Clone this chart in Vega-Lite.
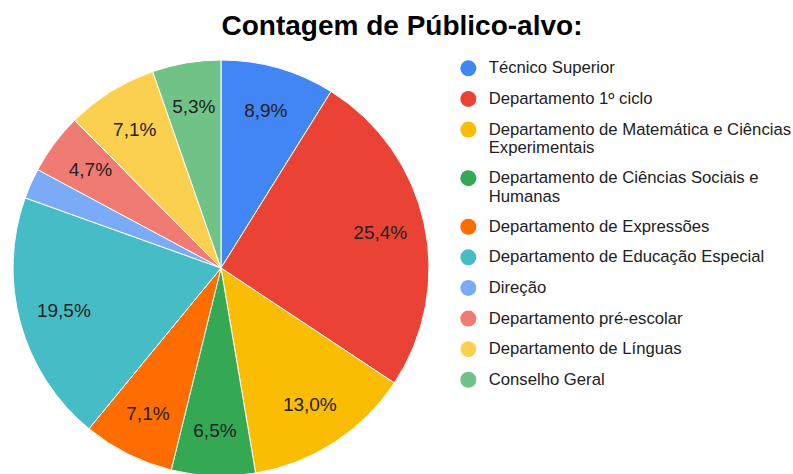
{
  "$schema": "https://vega.github.io/schema/vega-lite/v6.json",
  "width": 442,
  "height": 416,
  "padding": {"left": 0, "top": 13, "right": 0, "bottom": 0},
  "background": "white",
  "title": {
    "text": "Contagem de Público-alvo:",
    "font": "Liberation Sans",
    "fontSize": 28,
    "fontWeight": "bold",
    "color": "#000000",
    "anchor": "middle",
    "frame": "group",
    "dx": 181,
    "offset": 17
  },
  "data": {
    "values": [
      {"ordem": 1, "categoria": "Técnico Superior", "n": 15, "pct": 8.9, "rotulo": "8,9%"},
      {"ordem": 2, "categoria": "Departamento 1º ciclo", "n": 43, "pct": 25.4, "rotulo": "25,4%"},
      {"ordem": 3, "categoria": "Departamento de Matemática e Ciências Experimentais", "n": 22, "pct": 13.0, "rotulo": "13,0%"},
      {"ordem": 4, "categoria": "Departamento de Ciências Sociais e Humanas", "n": 11, "pct": 6.5, "rotulo": "6,5%"},
      {"ordem": 5, "categoria": "Departamento de Expressões", "n": 12, "pct": 7.1, "rotulo": "7,1%"},
      {"ordem": 6, "categoria": "Departamento de Educação Especial", "n": 33, "pct": 19.5, "rotulo": "19,5%"},
      {"ordem": 7, "categoria": "Direção", "n": 4, "pct": 2.4, "rotulo": "2,4%"},
      {"ordem": 8, "categoria": "Departamento pré-escolar", "n": 8, "pct": 4.7, "rotulo": "4,7%"},
      {"ordem": 9, "categoria": "Departamento de Línguas", "n": 12, "pct": 7.1, "rotulo": "7,1%"},
      {"ordem": 10, "categoria": "Conselho Geral", "n": 9, "pct": 5.3, "rotulo": "5,3%"}
    ]
  },
  "encoding": {
    "theta": {"field": "n", "type": "quantitative", "stack": true},
    "order": {"field": "ordem", "type": "quantitative"}
  },
  "layer": [
    {
      "mark": {"type": "arc", "outerRadius": 208, "stroke": "#ffffff", "strokeWidth": 1},
      "encoding": {
        "color": {
          "field": "categoria",
          "type": "nominal",
          "sort": null,
          "scale": {
            "domain": [
              "Técnico Superior",
              "Departamento 1º ciclo",
              "Departamento de Matemática e Ciências Experimentais",
              "Departamento de Ciências Sociais e Humanas",
              "Departamento de Expressões",
              "Departamento de Educação Especial",
              "Direção",
              "Departamento pré-escolar",
              "Departamento de Línguas",
              "Conselho Geral"
            ],
            "range": ["#4285f4", "#ea4335", "#fbbc04", "#34a853", "#ff6d01", "#46bdc6", "#7baaf7", "#f07b72", "#fcd04f", "#71c287"]
          },
          "legend": {
            "title": null,
            "orient": "right",
            "offset": 18,
            "padding": 0,
            "symbolType": "circle",
            "symbolSize": 256,
            "symbolStrokeWidth": 0,
            "symbolOpacity": 1,
            "labelFont": "Liberation Sans",
            "labelFontSize": 16.7,
            "labelColor": "#222222",
            "labelLimit": 400,
            "labelOffset": 12,
            "rowPadding": 12.6,
            "labelExpr": "datum.label == 'Departamento de Matemática e Ciências Experimentais' ? ['Departamento de Matemática e Ciências', 'Experimentais'] : datum.label == 'Departamento de Ciências Sociais e Humanas' ? ['Departamento de Ciências Sociais e', 'Humanas'] : datum.label",
            "encode": {
              "labels": {"update": {"lineHeight": {"value": 16}}}
            }
          }
        }
      }
    },
    {
      "mark": {"type": "text", "radius": 163, "font": "Liberation Sans", "fontSize": 19, "color": "#222222"},
      "encoding": {
        "text": {"field": "rotulo"},
        "detail": {"field": "categoria"},
        "opacity": {"condition": {"test": "datum.pct < 3", "value": 0}, "value": 1}
      }
    }
  ],
  "config": {"view": {"stroke": null}}
}
